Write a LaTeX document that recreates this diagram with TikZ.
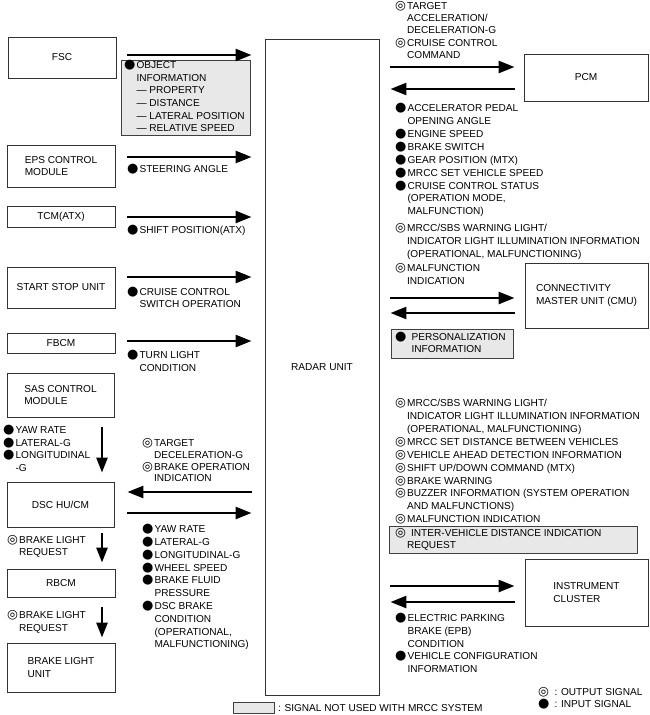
\documentclass[tikz,border=0pt]{standalone}
\usepackage{fontspec}
\setmainfont{Liberation Sans}
\newfontfamily\symfont{DejaVu Sans}
\usetikzlibrary{arrows.meta,calc}

\newcommand{\ins}{\smash{\symfont\fontsize{13}{13}\selectfont ●}}
\newcommand{\outs}{\smash{\symfont\bfseries\fontsize{12.5}{12.5}\selectfont ◎}}
\newcommand{\siglist}[1]{\begin{tabular}[t]{@{}l@{\hspace{1pt}}l@{}}#1\end{tabular}}

\begin{document}
\begin{tikzpicture}[x=1pt,y=-1pt]

\tikzset{
    unit/.style={
        draw=black!80,
        line width=0.9pt,
        inner sep=0pt,
        align=left,
        font=\fontsize{10.1}{12.8}\selectfont
    },
    signal/.style={anchor=base west, inner sep=0pt, font=\fontsize{10.1}{#1}\selectfont},
    signal/.default=12.9,
    unused/.style={draw=black!75, line width=0.8pt, fill=black!9, inner sep=0pt, anchor=north west},
    flow/.style={line width=2.6pt, -{Triangle[length=16pt,width=12pt]}},
    drop/.style={line width=2.6pt, -{Triangle[length=15pt,width=11pt]}}
}

\useasboundingbox (0,0) rectangle (650,715);

\node[unit, minimum width=114pt, minimum height=656pt] (radar) at (322,367) {RADAR UNIT};

\node[unit, minimum width=108pt, minimum height=41pt] (fsc) at (62,57.5) {FSC};
\node[unit, minimum width=108pt, minimum height=42pt] (eps) at (61,166) {EPS CONTROL\\MODULE};
\node[unit, minimum width=108pt, minimum height=21pt] (tcm) at (61,216.5) {TCM(ATX)};
\node[unit, minimum width=108pt, minimum height=41pt] (ssu) at (61,287.5) {START STOP UNIT};
\node[unit, minimum width=108pt, minimum height=20pt] (fbcm) at (61,343) {FBCM};
\node[unit, minimum width=107pt, minimum height=44pt] (sas) at (60.5,395) {SAS CONTROL\\MODULE};
\node[unit, minimum width=107pt, minimum height=45pt] (dsc) at (60.5,504.5) {DSC HU/CM};
\node[unit, minimum width=108pt, minimum height=28pt] (rbcm) at (61,583) {RBCM};
\node[unit, minimum width=108pt, minimum height=49pt] (blu) at (61,667.5) {BRAKE LIGHT\\UNIT};

\node[unit, minimum width=124pt, minimum height=47pt] (pcm) at (586,77.5) {PCM};
\node[unit, minimum width=123pt, minimum height=65pt] (cmu) at (586.5,295.5) {CONNECTIVITY\\MASTER UNIT (CMU)};
\node[unit, minimum width=123pt, minimum height=67pt] (ic) at (586.5,592.5) {INSTRUMENT\\CLUSTER};

% signals not used with MRCC
\node[unused, minimum width=129pt, minimum height=75pt] (objbox) at (121,60) {};
\node[unused, minimum width=122pt, minimum height=29pt] (persbox) at (391,329) {};
\node[unused, minimum width=248pt, minimum height=27pt] (ivdbox) at (389,526) {};
\node[unused, minimum width=41pt, minimum height=11pt] (keybox) at (233,702) {};

% left side
\draw[flow] ($(fsc.east)+(11,-2.5)$) -- ($(fsc.east -| radar.west)+(-13,-2.5)$);
\draw[flow] ($(eps.east)+(12,-9)$) -- ($(eps.east -| radar.west)+(-13,-9)$);
\draw[flow] ($(tcm.east)+(12,0.5)$) -- ($(tcm.east -| radar.west)+(-13,0.5)$);
\draw[flow] ($(ssu.east)+(12,-10.5)$) -- ($(ssu.east -| radar.west)+(-13,-10.5)$);
\draw[flow] ($(fbcm.east)+(12,-2)$) -- ($(fbcm.east -| radar.west)+(-13,-2)$);
\draw[flow] ($(dsc.east -| radar.west)+(-13,-12.5)$) -- ($(dsc.east)+(13,-12.5)$);
\draw[flow] ($(dsc.east)+(13,8.5)$) -- ($(dsc.east -| radar.west)+(-13,8.5)$);

\draw[drop] ($(sas.south)+(41.5,10)$) -- ($(dsc.north)+(41.5,-9)$);
\draw[drop] ($(dsc.south)+(41.5,6)$) -- ($(rbcm.north)+(41,-6)$);
\draw[drop] ($(rbcm.south)+(41,10)$) -- ($(blu.north)+(41,-5)$);

% right side
\draw[flow] ($(pcm.west -| radar.east)+(11,-10.5)$) -- ($(pcm.west)+(-9,-10.5)$);
\draw[flow] ($(pcm.west)+(-9,11.5)$) -- ($(pcm.west -| radar.east)+(11,11.5)$);
\draw[flow] ($(cmu.west -| radar.east)+(11,2.5)$) -- ($(cmu.west)+(-10,2.5)$);
\draw[flow] ($(cmu.west)+(-10,17.5)$) -- ($(cmu.west -| radar.east)+(11,17.5)$);
\draw[flow] ($(ic.west -| radar.east)+(11,-6.5)$) -- ($(ic.west)+(-10,-6.5)$);
\draw[flow] ($(ic.west)+(-10,9.5)$) -- ($(ic.west -| radar.east)+(11,9.5)$);

\node[signal=12.6] (objinfo) at (124,68.6) {\siglist{\ins & OBJECT\\ & INFORMATION\\ & — PROPERTY\\ & — DISTANCE\\ & — LATERAL POSITION\\ & — RELATIVE SPEED}};
\node[signal] (steer) at (127,172.6) {\siglist{\ins & STEERING ANGLE}};
\node[signal] (shift) at (127,233.6) {\siglist{\ins & SHIFT POSITION(ATX)}};
\node[signal=12] (ccsw) at (127,295) {\siglist{\ins & CRUISE CONTROL\\ & SWITCH OPERATION}};
\node[signal=13] (turn) at (127,358.6) {\siglist{\ins & TURN LIGHT\\ & CONDITION}};
\node[signal=12.5] (sasout) at (3,433.6) {\siglist{\ins & YAW RATE\\ \ins & LATERAL-G\\ \ins & LONGITUDINAL\\ & -G}};
\node[signal=11.7] (dscout) at (142,446.6) {\siglist{\outs & TARGET\\ & DECELERATION-G\\ \outs & BRAKE OPERATION\\ & INDICATION}};
\node[signal=12.8] (dscin) at (142,532.6) {\siglist{\ins & YAW RATE\\ \ins & LATERAL-G\\ \ins & LONGITUDINAL-G\\ \ins & WHEEL SPEED\\ \ins & BRAKE FLUID\\ & PRESSURE\\ \ins & DSC BRAKE\\ & CONDITION\\ & (OPERATIONAL,\\ & MALFUNCTIONING)}};
\node[signal=12.3] (brk1) at (7,543.6) {\siglist{\outs & BRAKE LIGHT\\ & REQUEST}};
\node[signal=12.6] (brk2) at (7,618.6) {\siglist{\outs & BRAKE LIGHT\\ & REQUEST}};

\node[signal=12.3] (pcmout) at (395,9.3) {\siglist{\outs & TARGET\\ & ACCELERATION/\\ & DECELERATION-G\\ \outs & CRUISE CONTROL\\ & COMMAND}};
\node[signal] (pcmin) at (395,111.6) {\siglist{\ins & ACCELERATOR PEDAL\\ & OPENING ANGLE\\ \ins & ENGINE SPEED\\ \ins & BRAKE SWITCH\\ \ins & GEAR POSITION (MTX)\\ \ins & MRCC SET VEHICLE SPEED\\ \ins & CRUISE CONTROL STATUS\\ & (OPERATION MODE,\\ & MALFUNCTION)}};
\node[signal=13] (cmuout) at (395,231.6) {\siglist{\outs & MRCC/SBS WARNING LIGHT/\\ & INDICATOR LIGHT ILLUMINATION INFORMATION\\ & (OPERATIONAL, MALFUNCTIONING)}};
\node[signal=13] (cmuout2) at (395,271.6) {\siglist{\outs & MALFUNCTION\\ & INDICATION}};
\node[signal=11.5] (persinfo) at (395,340.6) {\siglist{\ins & \hspace{4pt}PERSONALIZATION\\ & \hspace{4pt}INFORMATION}};
\node[signal] (icout) at (395,406.6) {\siglist{\outs & MRCC/SBS WARNING LIGHT/\\ & INDICATOR LIGHT ILLUMINATION INFORMATION\\ & (OPERATIONAL, MALFUNCTIONING)\\ \outs & MRCC SET DISTANCE BETWEEN VEHICLES\\ \outs & VEHICLE AHEAD DETECTION INFORMATION\\ \outs & SHIFT UP/DOWN COMMAND (MTX)\\ \outs & BRAKE WARNING\\ \outs & BUZZER INFORMATION (SYSTEM OPERATION\\ & AND MALFUNCTIONS)\\ \outs & MALFUNCTION INDICATION}};
\node[signal=12] (ivdinfo) at (395,536.6) {\siglist{\outs & \hspace{4pt}INTER-VEHICLE DISTANCE INDICATION\\ & REQUEST}};
\node[signal=12.75] (icin) at (395,621.6) {\siglist{\ins & ELECTRIC PARKING\\ & BRAKE (EPB)\\ & CONDITION\\ \ins & VEHICLE CONFIGURATION\\ & INFORMATION}};

% key
\node[signal=11.5] (legend) at (538,695.6) {\siglist{\outs & \hspace{4pt}: OUTPUT SIGNAL\\ \ins & \hspace{4pt}: INPUT SIGNAL}};
\node[signal] (keytext) at ($(keybox.east)+(3,3.6)$) {: SIGNAL NOT USED WITH MRCC SYSTEM};

\end{tikzpicture}
\end{document}
